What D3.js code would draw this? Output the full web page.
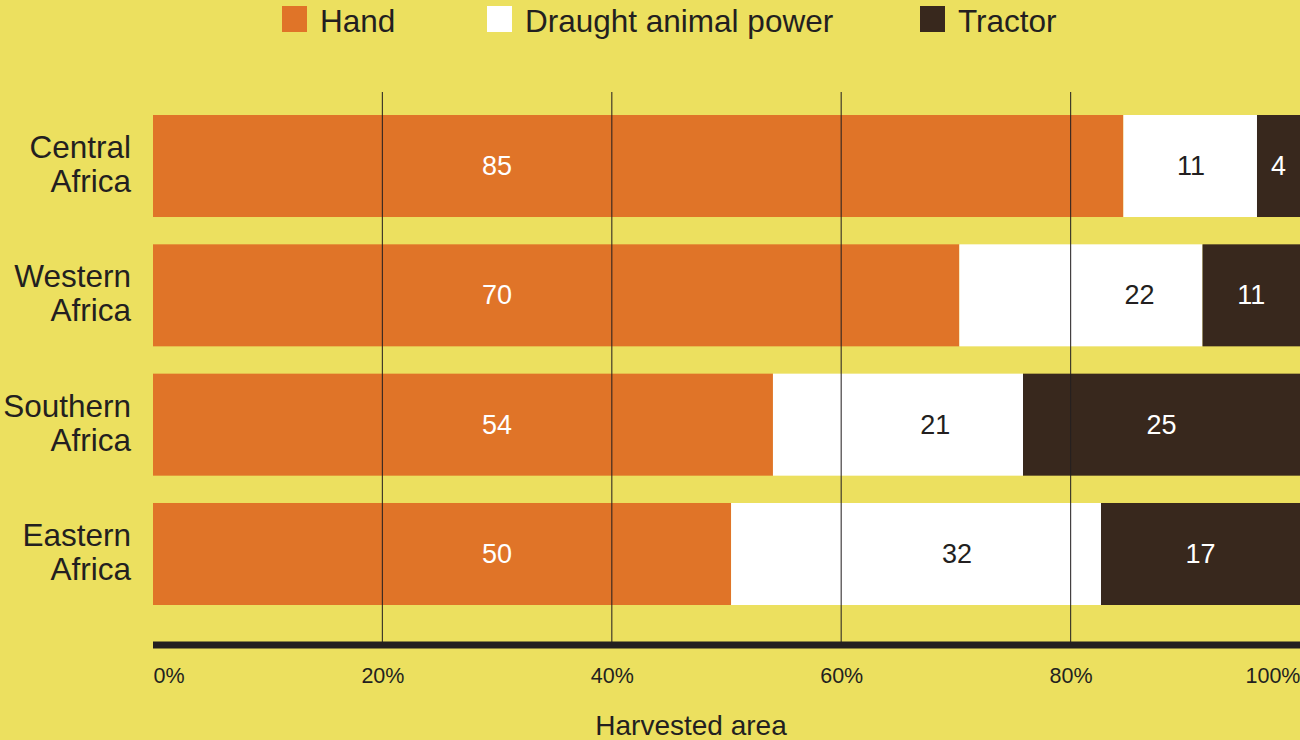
<!DOCTYPE html>
<html>
<head>
<meta charset="utf-8">
<script src="https://cdn.jsdelivr.net/npm/d3@7"></script>
<style>
  html, body { margin: 0; padding: 0; background: #ECE05F; }
  svg { display: block; }
  text { font-family: "Liberation Sans", Arial, sans-serif; }
</style>
</head>
<body>
<svg id="chart" width="1300" height="740"></svg>
<script>
// ---- data ----
const regions = ["Central Africa", "Western Africa", "Southern Africa", "Eastern Africa"];
const regionLines = [["Central", "Africa"], ["Western", "Africa"], ["Southern", "Africa"], ["Eastern", "Africa"]];
const seriesNames = ["Hand", "Draught animal power", "Tractor"];
// segment widths as drawn in the source (% of harvested area)
const hand = [84.6, 70.3, 54.05, 50.4];
const draught = [11.65, 21.2, 21.8, 32.25];
const tractor = [4, 11, 25, 17.4];
// printed value labels
const handLabels = [85, 70, 54, 50];
const draughtLabels = [11, 22, 21, 32];
const tractorLabels = [4, 11, 25, 17];
// label anchor positions (in % of harvested area) as they appear in the source
const handLabelAt = [30, 30, 30, 30];
const draughtLabelAt = [90.5, 86, 68.2, 70.1];
const tickValues = [0, 20, 40, 60, 80, 100];
const tickLabels = ["0%", "20%", "40%", "60%", "80%", "100%"];
const gridValues = [20, 40, 60, 80];
const axisTitle = "Harvested area";

// ---- style ----
const colors = ["#E07428", "#FFFFFF", "#38281D"];
const labelColors = ["#FFFFFF", "#231F20", "#FFFFFF"];
const ink = "#231F20";

const svg = d3.select("#chart");
svg.append("rect").attr("width", 1300).attr("height", 740).attr("fill", "#ECE05F");

const x = d3.scaleLinear().domain([0, 100]).range([153, 1300]).clamp(true);
const y = d3.scaleBand().domain(regions).range([101.33, 618.67]).paddingInner(0.2113).paddingOuter(0.1057);

const rows = regions.map((r, i) => ({
  region: r, lines: regionLines[i],
  vals: [hand[i], draught[i], tractor[i]],
  labels: [handLabels[i], draughtLabels[i], tractorLabels[i]], i
}));
const stack = d3.stack().keys([0, 1, 2]).value((d, k) => d.vals[k])(rows);

// bars
stack.forEach((layer, k) => {
  svg.append("g").selectAll("rect").data(layer).join("rect")
    .attr("x", d => x(d[0]))
    .attr("y", d => y(d.data.region))
    .attr("width", d => Math.max(0, x(d[1]) - x(d[0])))
    .attr("height", y.bandwidth())
    .attr("fill", colors[k]);
});

// bar value labels
stack.forEach((layer, k) => {
  svg.append("g").selectAll("text").data(layer).join("text")
    .attr("x", d => {
      const i = d.data.i;
      if (k === 0) return x(handLabelAt[i]);
      if (k === 1) return x(draughtLabelAt[i]);
      return (x(d[0]) + x(d[1])) / 2;
    })
    .attr("y", d => y(d.data.region) + y.bandwidth() / 2 + 9)
    .attr("text-anchor", "middle")
    .attr("font-size", 27)
    .attr("fill", labelColors[k])
    .text(d => d.data.labels[k]);
});

// gridlines (on top of bars)
svg.append("g").selectAll("line").data(gridValues).join("line")
  .attr("x1", d => x(d)).attr("x2", d => x(d))
  .attr("y1", 92).attr("y2", 642)
  .attr("stroke", ink).attr("stroke-opacity", 0.85).attr("stroke-width", 1.2);

// axis
const xAxis = d3.axisBottom(x).tickValues(tickValues).tickSize(0).tickPadding(0)
  .tickFormat((d, i) => tickLabels[i]);
const axisG = svg.append("g").attr("transform", "translate(0,645)").call(xAxis);
axisG.select(".domain").remove();
axisG.append("line").attr("x1", x(0)).attr("x2", x(100)).attr("y1", 0).attr("y2", 0)
  .attr("stroke", ink).attr("stroke-width", 7);
axisG.selectAll(".tick text")
  .attr("font-family", "Liberation Sans, Arial, sans-serif")
  .attr("font-size", 21.5)
  .attr("fill", ink)
  .attr("dy", null)
  .attr("y", 38)
  .attr("text-anchor", d => d === 0 ? "start" : (d === 100 ? "end" : "middle"));

// axis title
svg.append("text").attr("x", 691).attr("y", 735).attr("text-anchor", "middle")
  .attr("font-size", 28).attr("fill", ink).text(axisTitle);

// category labels
const catG = svg.append("g").selectAll("text").data(rows).join("text")
  .attr("text-anchor", "end").attr("font-size", 31.5).attr("fill", ink);
catG.each(function(d) {
  const c = y(d.region) + y.bandwidth() / 2;
  const t = d3.select(this);
  t.append("tspan").attr("x", 131).attr("y", c - 8).text(d.lines[0]);
  t.append("tspan").attr("x", 131).attr("y", c + 26).text(d.lines[1]);
});

// legend
const legendX = [282, 487, 920];
const legend = svg.append("g").selectAll("g").data(seriesNames).join("g")
  .attr("transform", (d, i) => `translate(${legendX[i]},0)`);
legend.append("rect").attr("x", 0).attr("y", 6).attr("width", 25).attr("height", 26)
  .attr("fill", (d, i) => colors[i]);
legend.append("text").attr("x", 38).attr("y", 32).attr("font-size", 31.5).attr("fill", ink)
  .text(d => d);
</script>
</body>
</html>
